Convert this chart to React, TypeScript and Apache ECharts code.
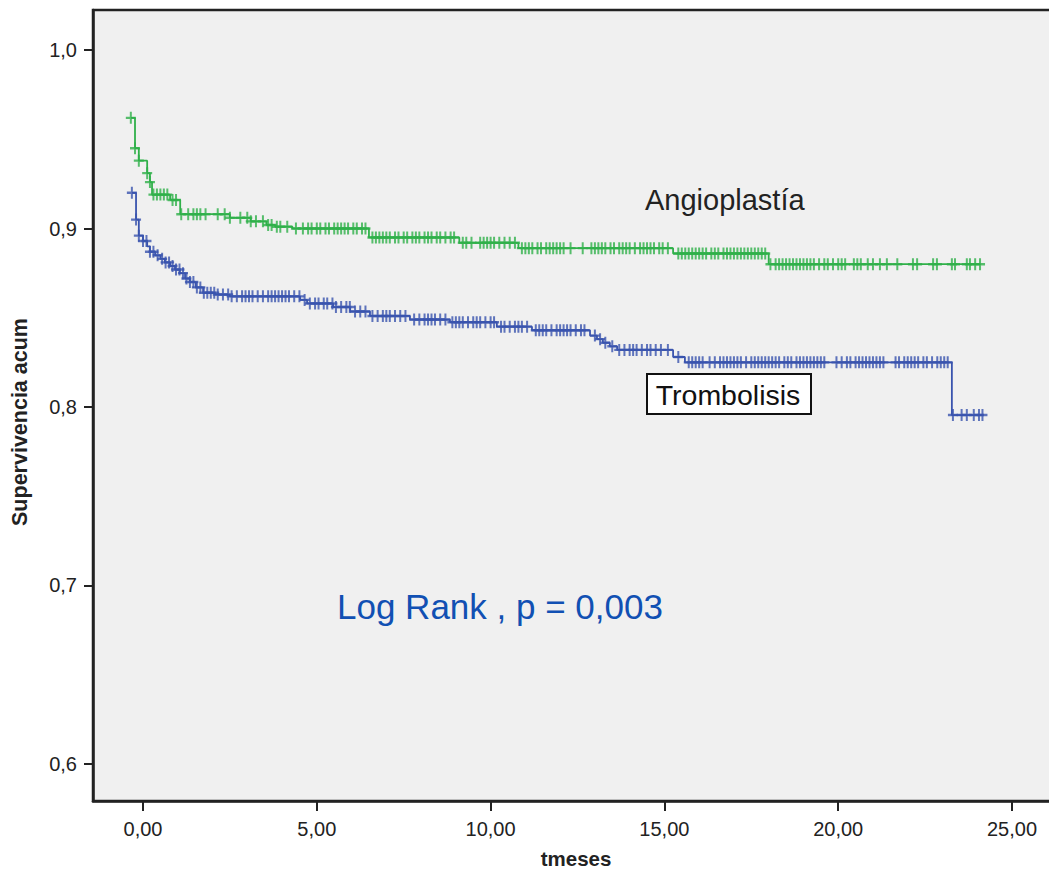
import React, { useEffect, useRef } from "react";
import * as echarts from "echarts";

// Kaplan-Meier steps (time in months, cumulative survival)
const angioTimes = [-0.35, -0.23, -0.12, 0.12, 0.2, 0.26, 0.78, 1.07, 2.5, 3.1, 3.55, 3.8, 4.3, 6.5, 9.1, 10.8, 15.25, 18.0, 24.1];
const angioSurv = [0.962, 0.945, 0.938, 0.931, 0.926, 0.919, 0.916, 0.908, 0.906, 0.904, 0.902, 0.901, 0.9, 0.895, 0.892, 0.889, 0.886, 0.88, 0.88];

const tromboTimes = [-0.32, -0.2, -0.12, 0.0, 0.12, 0.2, 0.35, 0.5, 0.63, 0.78, 0.92, 1.06, 1.21, 1.35, 1.52, 1.73, 2.07, 2.5, 4.52, 4.72, 5.47, 5.96, 6.53, 7.68, 8.83, 10.18, 11.19, 12.86, 13.06, 13.23, 13.43, 13.64, 15.25, 15.59, 23.27, 24.17];
const tromboSurv = [0.92, 0.905, 0.896, 0.893, 0.89, 0.887, 0.885, 0.883, 0.881, 0.879, 0.877, 0.875, 0.872, 0.87, 0.867, 0.864, 0.863, 0.862, 0.86, 0.858, 0.856, 0.8535, 0.851, 0.849, 0.8475, 0.845, 0.843, 0.84, 0.838, 0.836, 0.834, 0.832, 0.828, 0.825, 0.7955, 0.7955];

// Censored observations (times)
const angioCensored = [-0.35, -0.23, -0.12, 0.12, 0.2, 0.3, 0.4, 0.5, 0.6, 0.7, 0.85, 0.95, 1.1, 1.3, 1.45, 1.55, 1.65, 1.8, 2.15, 2.35, 2.5, 2.8, 3.0, 3.1, 3.25, 3.45, 3.6, 3.7, 3.85, 3.95, 4.15, 4.4, 4.6, 4.75, 4.85, 5.0, 5.1, 5.25, 5.35, 5.5, 5.6, 5.7, 5.8, 5.9, 6.05, 6.15, 6.3, 6.4, 6.6, 6.7, 6.8, 6.9, 7.0, 7.1, 7.25, 7.35, 7.5, 7.6, 7.75, 7.85, 7.95, 8.1, 8.2, 8.3, 8.45, 8.55, 8.7, 8.85, 8.95, 9.2, 9.3, 9.45, 9.7, 9.8, 9.9, 10.0, 10.1, 10.25, 10.4, 10.55, 10.7, 10.9, 11.0, 11.1, 11.2, 11.35, 11.45, 11.6, 11.7, 11.8, 11.9, 12.0, 12.1, 12.3, 12.65, 12.9, 13.0, 13.1, 13.2, 13.3, 13.45, 13.55, 13.7, 13.8, 13.9, 14.0, 14.15, 14.3, 14.4, 14.5, 14.6, 14.7, 14.85, 14.95, 15.1, 15.4, 15.5, 15.6, 15.7, 15.8, 15.9, 16.0, 16.1, 16.2, 16.35, 16.45, 16.55, 16.7, 16.8, 16.9, 17.0, 17.1, 17.2, 17.3, 17.4, 17.5, 17.6, 17.7, 17.8, 17.9, 18.05, 18.2, 18.3, 18.4, 18.5, 18.6, 18.7, 18.8, 18.9, 19.0, 19.1, 19.2, 19.3, 19.45, 19.6, 19.7, 19.85, 20.0, 20.1, 20.2, 20.45, 20.55, 20.65, 20.85, 21.0, 21.2, 21.4, 21.7, 22.15, 22.27, 22.73, 22.84, 23.27, 23.36, 23.7, 23.79, 23.94, 24.08];
const tromboCensored = [-0.32, -0.2, -0.12, 0.0, 0.1, 0.2, 0.3, 0.42, 0.55, 0.65, 0.75, 0.85, 0.95, 1.05, 1.15, 1.25, 1.35, 1.45, 1.55, 1.65, 1.75, 1.85, 1.95, 2.05, 2.15, 2.3, 2.45, 2.55, 2.7, 2.85, 2.95, 3.05, 3.15, 3.3, 3.45, 3.6, 3.7, 3.8, 3.9, 4.0, 4.1, 4.2, 4.35, 4.5, 4.65, 4.8, 4.95, 5.05, 5.2, 5.3, 5.45, 5.55, 5.7, 5.85, 5.95, 6.1, 6.25, 6.4, 6.6, 6.75, 6.9, 7.0, 7.1, 7.25, 7.4, 7.55, 7.8, 7.95, 8.1, 8.2, 8.3, 8.4, 8.55, 8.7, 8.9, 9.0, 9.1, 9.2, 9.35, 9.5, 9.6, 9.7, 9.85, 10.0, 10.1, 10.3, 10.4, 10.55, 10.7, 10.8, 10.9, 11.05, 11.3, 11.4, 11.5, 11.6, 11.75, 11.9, 12.0, 12.1, 12.2, 12.3, 12.45, 12.6, 12.7, 13.0, 13.15, 13.3, 13.5, 13.7, 13.85, 14.0, 14.1, 14.2, 14.35, 14.5, 14.6, 14.75, 14.9, 15.1, 15.4, 15.7, 15.8, 15.9, 16.0, 16.1, 16.3, 16.45, 16.6, 16.7, 16.8, 16.9, 17.0, 17.1, 17.2, 17.35, 17.5, 17.6, 17.7, 17.8, 17.9, 18.0, 18.1, 18.2, 18.3, 18.45, 18.55, 18.65, 18.8, 18.9, 19.0, 19.1, 19.2, 19.3, 19.4, 19.5, 19.6, 19.95, 20.1, 20.25, 20.35, 20.5, 20.6, 20.7, 20.8, 20.9, 21.0, 21.1, 21.2, 21.3, 21.65, 21.75, 21.9, 22.0, 22.1, 22.2, 22.3, 22.45, 22.55, 22.7, 22.85, 22.95, 23.05, 23.15, 23.3, 23.55, 23.7, 23.9, 24.05, 24.15];

const xTicks = [0, 5, 10, 15, 20, 25];
const yTicks = [0.6, 0.7, 0.8, 0.9, 1.0];

const GREEN = "#30b04a";
const BLUE = "#3a54ae";
const PLUS = "path://M-0.2,-1H0.2V-0.2H1V0.2H0.2V1H-0.2V0.2H-1V-0.2H-0.2Z";

function survAt(times: number[], surv: number[], t: number) {
  let s = surv[0];
  for (let i = 0; i < times.length; i++) {
    if (times[i] <= t + 1e-9) s = surv[i];
  }
  return s;
}

export default function App() {
  const ref = useRef<HTMLDivElement>(null);
  useEffect(() => {
    if (!ref.current) return;
    const chart = echarts.init(ref.current, null, { renderer: "svg" });
    const font = "'Liberation Sans', Arial, Helvetica, sans-serif";
    const stepData = (ts: number[], ss: number[]) => ts.map((t, i) => [t, ss[i]]);
    const censData = (cs: number[], ts: number[], ss: number[]) => cs.map((t) => [t, survAt(ts, ss, t)]);
    chart.setOption({
      animation: false,
      backgroundColor: "#ffffff",
      grid: {
        left: 93,
        top: 10,
        width: 961,
        height: 791,
        containLabel: false,
        outerBoundsMode: "none",
        show: true,
        backgroundColor: "#f0f0f0",
        borderColor: "#222222",
        borderWidth: 2.5,
      },
      xAxis: {
        type: "value",
        min: -1.4384,
        max: 26.208,
        axisLine: { show: true, onZero: false, lineStyle: { color: "#222", width: 2.5 } },
        axisTick: { show: true, length: 10, customValues: xTicks, lineStyle: { color: "#222", width: 2 } },
        axisLabel: {
          customValues: xTicks,
          margin: 18,
          fontFamily: font,
          fontSize: 20,
          color: "#222",
          formatter: (v: number) => v.toFixed(2).replace(".", ","),
        },
        splitLine: { show: false },
      },
      yAxis: {
        type: "value",
        min: 0.57927,
        max: 1.02241,
        axisLine: { show: true, onZero: false, lineStyle: { color: "#222", width: 2.5 } },
        axisTick: { show: true, length: 9, customValues: yTicks, lineStyle: { color: "#222", width: 2 } },
        axisLabel: {
          customValues: yTicks,
          margin: 16,
          fontFamily: font,
          fontSize: 20,
          color: "#222",
          formatter: (v: number) => v.toFixed(1).replace(".", ","),
        },
        splitLine: { show: false },
      },
      series: [
        {
          type: "line",
          step: "end",
          data: stepData(angioTimes, angioSurv),
          showSymbol: false,
          lineStyle: { color: GREEN, width: 1.8 },
          z: 2,
        },
        {
          type: "scatter",
          data: censData(angioCensored, angioTimes, angioSurv),
          symbol: PLUS,
          symbolSize: [10, 12],
          itemStyle: { color: GREEN },
          z: 3,
        },
        {
          type: "line",
          step: "end",
          data: stepData(tromboTimes, tromboSurv),
          showSymbol: false,
          lineStyle: { color: BLUE, width: 1.8 },
          z: 2,
        },
        {
          type: "scatter",
          data: censData(tromboCensored, tromboTimes, tromboSurv),
          symbol: PLUS,
          symbolSize: [10, 12],
          itemStyle: { color: BLUE },
          z: 3,
        },
      ],
      graphic: [
        {
          type: "text",
          x: 20,
          y: 422,
          rotation: Math.PI / 2,
          style: {
            text: "Supervivencia acum",
            fontFamily: font,
            fontWeight: "bold",
            fontSize: 21.5,
            fill: "#222",
            align: "center",
            verticalAlign: "middle",
          },
        },
        {
          type: "text",
          x: 576,
          y: 858,
          style: {
            text: "tmeses",
            fontFamily: font,
            fontWeight: "bold",
            fontSize: 20.5,
            fill: "#222",
            align: "center",
            verticalAlign: "middle",
          },
        },
        {
          type: "text",
          x: 645,
          y: 200,
          style: { text: "Angioplastía", fontFamily: font, fontSize: 29, fill: "#222", align: "left", verticalAlign: "middle" },
          z: 10,
        },
        {
          type: "rect",
          shape: { x: 647, y: 374, width: 164, height: 40 },
          style: { fill: "#ffffff", stroke: "#111", lineWidth: 2 },
          z: 10,
        },
        {
          type: "text",
          x: 728,
          y: 395,
          style: { text: "Trombolisis", fontFamily: font, fontSize: 28.5, fill: "#111", align: "center", verticalAlign: "middle" },
          z: 11,
        },
        {
          type: "text",
          x: 337,
          y: 606,
          style: { text: "Log Rank , p = 0,003", fontFamily: font, fontSize: 35, fill: "#1150b3", align: "left", verticalAlign: "middle" },
          z: 10,
        },
      ],
    });
    return () => chart.dispose();
  }, []);
  return <div ref={ref} style={{ position: "absolute", left: 0, top: 0, width: 1049, height: 870 }} />;
}
